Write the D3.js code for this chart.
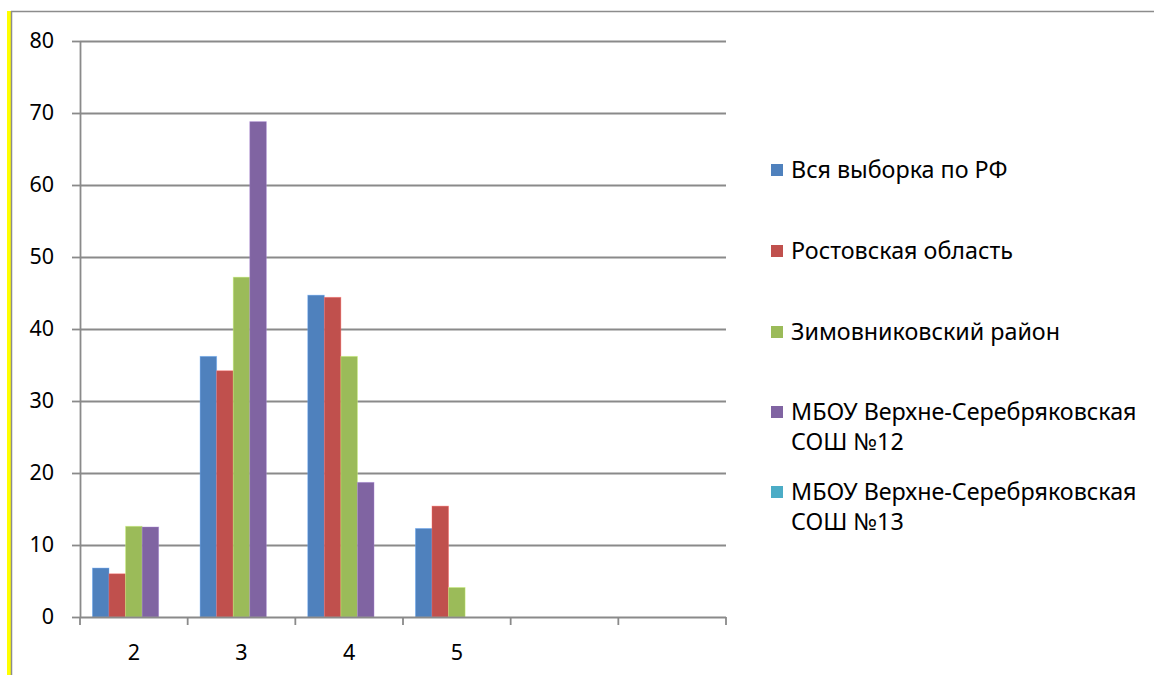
<!DOCTYPE html>
<html><head><meta charset="utf-8">
<script src="https://cdn.jsdelivr.net/npm/d3@7"></script>
<style>html,body{margin:0;padding:0;background:#fff;}svg{display:block;}</style>
</head><body>
<svg id="c" width="1154" height="675"></svg>
<script>
const categories = ["2", "3", "4", "5", "", ""];
const seriesNames = [
  "Вся выборка по РФ",
  "Ростовская область",
  "Зимовниковский район",
  "МБОУ Верхне-Серебряковская СОШ №12",
  "МБОУ Верхне-Серебряковская СОШ №13"
];
const legendLines = [
  ["Вся выборка по РФ"],
  ["Ростовская область"],
  ["Зимовниковский район"],
  ["МБОУ Верхне-Серебряковская", "СОШ №12"],
  ["МБОУ Верхне-Серебряковская", "СОШ №13"]
];
const valuesRF      = [6.8, 36.2, 44.7, 12.3, null, null];
const valuesRostov  = [6.0, 34.2, 44.4, 15.4, null, null];
const valuesZimov   = [12.6, 47.2, 36.2, 4.1, null, null];
const valuesMBOU12  = [12.5, 68.8, 18.7, null, null, null];
const valuesMBOU13  = [null, null, null, null, null, null];
const yTicks = [0, 10, 20, 30, 40, 50, 60, 70, 80];
const colors = ["#4F81BD", "#C0504D", "#9BBB59", "#8064A2", "#4BACC6"];

const allSeries = [valuesRF, valuesRostov, valuesZimov, valuesMBOU12, valuesMBOU13];
const FONT = "'Noto Sans', 'Open Sans', sans-serif";
const svg = d3.select("#c");

// frame
svg.append("rect").attr("x", 7).attr("y", 11).attr("width", 4).attr("height", 664).attr("fill", "#FFFF00");
svg.append("line").attr("x1", 11).attr("x2", 1154).attr("y1", 11.5).attr("y2", 11.5).attr("stroke", "#8c8c8c").attr("stroke-width", 1.5);
svg.append("line").attr("x1", 11.5).attr("x2", 11.5).attr("y1", 11).attr("y2", 675).attr("stroke", "#8c8c8c").attr("stroke-width", 1.5);

const pL = 80, pR = 726, pT = 41, pB = 617;
const x = d3.scaleBand().domain(d3.range(categories.length)).range([pL, pR]).paddingInner(0).paddingOuter(0);
const y = d3.scaleLinear().domain([0, 80]).range([pB, pT]);
const bw = x.bandwidth() / 6.5;
const x1 = d3.scaleBand().domain(d3.range(allSeries.length)).range([0, bw * 5]);

// gridlines
svg.append("g").selectAll("line").data(yTicks.filter(d => d > 0)).join("line")
  .attr("x1", pL).attr("x2", pR)
  .attr("y1", d => Math.round(y(d)) + 0.5).attr("y2", d => Math.round(y(d)) + 0.5)
  .attr("stroke", "#8a8a8a").attr("stroke-width", 1.8);

// bars
allSeries.forEach((vals, si) => {
  svg.append("g").selectAll("rect")
    .data(vals.map((v, i) => ({v, i})).filter(d => d.v !== null))
    .join("rect")
    .attr("x", d => x(d.i) + bw * 0.75 + x1(si))
    .attr("width", x1.bandwidth())
    .attr("y", d => y(d.v))
    .attr("height", d => y(0) - y(d.v))
    .attr("fill", colors[si])
    .attr("stroke", d3.color(colors[si]).brighter(0.8))
    .attr("stroke-opacity", 0.5)
    .attr("stroke-width", 0.8);
});

// y axis
const yAxis = d3.axisLeft(y).tickValues(yTicks).tickSize(8).tickPadding(18).tickFormat(d3.format("d"));
const gy = svg.append("g").attr("transform", `translate(${pL},0)`).call(yAxis);
gy.select(".domain").attr("stroke", "#8a8a8a").attr("stroke-width", 1.8).attr("d", `M0.5,${pT}V${pB}`);
gy.selectAll(".tick line").attr("stroke", "#8a8a8a").attr("stroke-width", 1.8);
gy.selectAll(".tick text").attr("font-family", FONT).attr("font-size", 21.5).attr("fill", "#000");

// x axis
const gx = svg.append("g").attr("transform", `translate(0,${pB})`);
gx.append("line").attr("x1", pL).attr("x2", pR).attr("y1", 0.5).attr("y2", 0.5).attr("stroke", "#8a8a8a").attr("stroke-width", 1.8);
const bounds = d3.range(categories.length).map(i => x(i)).concat([pR]);
gx.selectAll("line.tk").data(bounds).join("line").attr("class", "tk")
  .attr("x1", d => d).attr("x2", d => d).attr("y1", 0).attr("y2", 8)
  .attr("stroke", "#8a8a8a").attr("stroke-width", 1.8);
gx.selectAll("text").data(categories).join("text")
  .attr("x", (d, i) => x(i) + x.bandwidth() / 2)
  .attr("y", 35)
  .attr("dy", "0.35em")
  .attr("text-anchor", "middle")
  .attr("font-family", FONT).attr("font-size", 21.5).attr("fill", "#000")
  .text(d => d);

// legend
const legendY = [170, 251, 332, 412, 492];
const lg = svg.append("g");
legendLines.forEach((lines, i) => {
  lg.append("rect").attr("x", 771).attr("y", legendY[i] - 6).attr("width", 12).attr("height", 12).attr("fill", colors[i]);
  const t = lg.append("text").attr("x", 791).attr("y", legendY[i])
    .attr("font-family", FONT).attr("font-size", 23.3).attr("fill", "#000");
  lines.forEach((ln, j) => {
    t.append("tspan").attr("x", 791).attr("dy", j === 0 ? "0.35em" : 30).text(ln);
  });
});
</script>
</body></html>
